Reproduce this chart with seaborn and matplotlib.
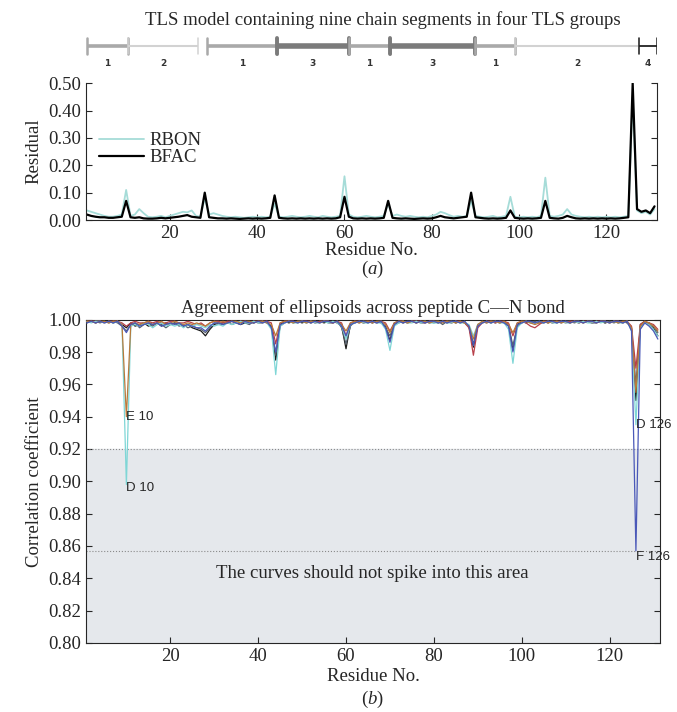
import numpy as np
import pandas as pd
import seaborn as sns
import matplotlib
matplotlib.use("Agg")
import matplotlib.pyplot as plt

# ---- data ----
residues = list(range(1, 132))

bfac = [0.020, 0.015, 0.012, 0.010, 0.010, 0.008, 0.008, 0.010, 0.012, 0.070,
        0.010, 0.008, 0.010, 0.006, 0.005, 0.005, 0.006, 0.008, 0.006, 0.008,
        0.010, 0.012, 0.015, 0.018, 0.012, 0.010, 0.008, 0.100, 0.010, 0.008,
        0.006, 0.006, 0.005, 0.006, 0.005, 0.004, 0.005, 0.006, 0.005, 0.006,
        0.005, 0.006, 0.008, 0.090, 0.008, 0.006, 0.005, 0.006, 0.005, 0.006,
        0.005, 0.006, 0.005, 0.006, 0.005, 0.006, 0.005, 0.006, 0.010, 0.085,
        0.012, 0.006, 0.005, 0.006, 0.005, 0.006, 0.005, 0.006, 0.008, 0.070,
        0.008, 0.006, 0.005, 0.006, 0.005, 0.004, 0.005, 0.006, 0.005, 0.006,
        0.010, 0.015, 0.010, 0.008, 0.006, 0.008, 0.010, 0.012, 0.100, 0.010,
        0.008, 0.006, 0.005, 0.006, 0.005, 0.006, 0.008, 0.035, 0.008, 0.006,
        0.005, 0.006, 0.005, 0.006, 0.008, 0.070, 0.008, 0.006, 0.005, 0.008,
        0.015, 0.010, 0.006, 0.005, 0.006, 0.005, 0.006, 0.005, 0.006, 0.005,
        0.006, 0.005, 0.006, 0.008, 0.010, 0.500, 0.040, 0.030, 0.035, 0.025, 0.050]

rbon = [0.035, 0.030, 0.025, 0.020, 0.015, 0.012, 0.012, 0.015, 0.020, 0.110,
        0.015, 0.020, 0.040, 0.025, 0.012, 0.010, 0.012, 0.015, 0.010, 0.015,
        0.020, 0.025, 0.030, 0.028, 0.035, 0.015, 0.012, 0.080, 0.020, 0.025,
        0.020, 0.015, 0.012, 0.010, 0.012, 0.010, 0.008, 0.010, 0.012, 0.010,
        0.012, 0.010, 0.012, 0.060, 0.012, 0.010, 0.012, 0.015, 0.012, 0.010,
        0.012, 0.015, 0.012, 0.010, 0.015, 0.012, 0.010, 0.012, 0.015, 0.160,
        0.020, 0.012, 0.010, 0.012, 0.015, 0.012, 0.010, 0.012, 0.015, 0.060,
        0.015, 0.020, 0.015, 0.012, 0.015, 0.012, 0.010, 0.012, 0.010, 0.015,
        0.020, 0.030, 0.025, 0.018, 0.012, 0.015, 0.012, 0.015, 0.070, 0.015,
        0.012, 0.010, 0.012, 0.015, 0.010, 0.012, 0.015, 0.085, 0.012, 0.010,
        0.012, 0.010, 0.012, 0.010, 0.015, 0.155, 0.015, 0.012, 0.015, 0.020,
        0.040, 0.020, 0.015, 0.012, 0.010, 0.012, 0.010, 0.012, 0.010, 0.012,
        0.010, 0.012, 0.010, 0.012, 0.015, 0.450, 0.035, 0.025, 0.030, 0.020, 0.040]

# correlation coefficients per atom label
corr_a = [0.999, 0.999, 0.998, 0.999, 0.999, 0.999, 0.998, 0.999, 0.997, 0.995,
          0.998, 0.996, 0.997, 0.998, 0.996, 0.997, 0.998, 0.996, 0.998, 0.997,
          0.998, 0.997, 0.996, 0.997, 0.995, 0.994, 0.993, 0.990, 0.994, 0.997,
          0.998, 0.997, 0.998, 0.999, 0.998, 0.997, 0.998, 0.999, 0.998, 0.999,
          0.999, 0.998, 0.996, 0.975, 0.997, 0.999, 0.998, 0.999, 0.999, 0.998,
          0.999, 0.998, 0.999, 0.999, 0.998, 0.999, 0.999, 0.998, 0.996, 0.982,
          0.997, 0.998, 0.999, 0.998, 0.999, 0.998, 0.999, 0.998, 0.996, 0.987,
          0.998, 0.999, 0.998, 0.999, 0.999, 0.998, 0.999, 0.999, 0.998, 0.999,
          0.998, 0.999, 0.998, 0.999, 0.998, 0.999, 0.998, 0.996, 0.983, 0.997,
          0.998, 0.999, 0.998, 0.999, 0.998, 0.999, 0.997, 0.981, 0.997, 0.999,
          0.998, 0.999, 0.998, 0.999, 0.999, 0.998, 0.999, 0.998, 0.999, 0.999,
          0.998, 0.999, 0.998, 0.999, 0.999, 0.998, 0.999, 0.999, 0.998, 0.999,
          0.999, 0.998, 0.999, 0.998, 0.995, 0.950, 0.997, 0.999, 0.997, 0.995, 0.990]

corr_b = [0.998, 0.999, 0.999, 0.998, 0.999, 0.998, 0.999, 0.998, 0.996, 0.993,
          0.997, 0.998, 0.995, 0.997, 0.998, 0.996, 0.998, 0.997, 0.995, 0.997,
          0.998, 0.996, 0.997, 0.995, 0.996, 0.995, 0.994, 0.992, 0.995, 0.998,
          0.997, 0.998, 0.999, 0.997, 0.998, 0.999, 0.998, 0.997, 0.999, 0.998,
          0.998, 0.999, 0.995, 0.978, 0.996, 0.998, 0.999, 0.998, 0.999, 0.999,
          0.998, 0.999, 0.998, 0.999, 0.999, 0.998, 0.998, 0.999, 0.995, 0.985,
          0.996, 0.999, 0.998, 0.999, 0.998, 0.999, 0.998, 0.999, 0.995, 0.990,
          0.997, 0.998, 0.999, 0.998, 0.999, 0.999, 0.998, 0.998, 0.999, 0.998,
          0.999, 0.997, 0.999, 0.998, 0.999, 0.998, 0.999, 0.995, 0.985, 0.996,
          0.999, 0.998, 0.999, 0.998, 0.999, 0.998, 0.996, 0.984, 0.996, 0.998,
          0.999, 0.998, 0.999, 0.998, 0.998, 0.999, 0.998, 0.999, 0.998, 0.999,
          0.999, 0.998, 0.999, 0.998, 0.999, 0.998, 0.998, 0.999, 0.998, 0.999,
          0.998, 0.999, 0.998, 0.999, 0.994, 0.960, 0.996, 0.998, 0.998, 0.996, 0.992]

corr_c = [0.999, 0.999, 0.999, 0.999, 0.998, 0.999, 0.999, 0.999, 0.998, 0.996,
          0.998, 0.999, 0.998, 0.998, 0.999, 0.998, 0.999, 0.998, 0.998, 0.999,
          0.999, 0.998, 0.998, 0.999, 0.998, 0.997, 0.998, 0.996, 0.998, 0.999,
          0.999, 0.998, 0.999, 0.999, 0.998, 0.999, 0.999, 0.998, 0.999, 0.999,
          0.999, 0.999, 0.998, 0.985, 0.998, 0.999, 0.999, 0.999, 0.998, 0.999,
          0.999, 0.999, 0.998, 0.999, 0.999, 0.999, 0.998, 0.999, 0.998, 0.990,
          0.998, 0.999, 0.999, 0.998, 0.999, 0.999, 0.998, 0.999, 0.998, 0.993,
          0.998, 0.999, 0.999, 0.998, 0.999, 0.999, 0.999, 0.998, 0.999, 0.999,
          0.998, 0.999, 0.999, 0.998, 0.999, 0.999, 0.998, 0.995, 0.978, 0.995,
          0.998, 0.999, 0.999, 0.998, 0.999, 0.999, 0.998, 0.990, 0.998, 0.999,
          0.998, 0.996, 0.995, 0.997, 0.999, 0.999, 0.998, 0.999, 0.999, 0.998,
          0.999, 0.999, 0.998, 0.999, 0.999, 0.998, 0.999, 0.999, 0.999, 0.998,
          0.999, 0.999, 0.998, 0.999, 0.996, 0.970, 0.997, 0.999, 0.998, 0.997, 0.994]

corr_d = [0.999, 0.998, 0.999, 0.999, 0.998, 0.999, 0.998, 0.999, 0.997, 0.898,
          0.996, 0.997, 0.996, 0.998, 0.997, 0.995, 0.997, 0.998, 0.996, 0.997,
          0.996, 0.997, 0.995, 0.997, 0.996, 0.997, 0.996, 0.995, 0.997, 0.996,
          0.997, 0.996, 0.998, 0.997, 0.998, 0.999, 0.998, 0.998, 0.999, 0.998,
          0.999, 0.998, 0.994, 0.966, 0.996, 0.998, 0.999, 0.998, 0.998, 0.999,
          0.998, 0.999, 0.998, 0.998, 0.999, 0.998, 0.999, 0.998, 0.996, 0.988,
          0.997, 0.998, 0.999, 0.998, 0.998, 0.999, 0.998, 0.998, 0.994, 0.981,
          0.996, 0.998, 0.999, 0.998, 0.998, 0.999, 0.998, 0.999, 0.998, 0.998,
          0.998, 0.999, 0.998, 0.998, 0.999, 0.998, 0.998, 0.997, 0.990, 0.997,
          0.998, 0.999, 0.998, 0.999, 0.998, 0.998, 0.994, 0.973, 0.995, 0.998,
          0.999, 0.998, 0.998, 0.999, 0.998, 0.999, 0.998, 0.998, 0.999, 0.998,
          0.998, 0.999, 0.998, 0.999, 0.998, 0.998, 0.999, 0.998, 0.999, 0.998,
          0.999, 0.998, 0.998, 0.999, 0.993, 0.935, 0.995, 0.998, 0.997, 0.994, 0.990]

corr_e = [0.999, 0.999, 0.998, 0.999, 0.999, 0.998, 0.999, 0.999, 0.997, 0.940,
          0.997, 0.998, 0.997, 0.998, 0.999, 0.997, 0.998, 0.999, 0.997, 0.998,
          0.999, 0.998, 0.997, 0.998, 0.997, 0.998, 0.997, 0.996, 0.998, 0.999,
          0.998, 0.999, 0.998, 0.999, 0.999, 0.998, 0.999, 0.999, 0.998, 0.999,
          0.999, 0.998, 0.997, 0.990, 0.998, 0.999, 0.999, 0.998, 0.999, 0.999,
          0.998, 0.999, 0.999, 0.998, 0.999, 0.999, 0.998, 0.999, 0.997, 0.993,
          0.998, 0.999, 0.998, 0.999, 0.999, 0.998, 0.999, 0.999, 0.997, 0.992,
          0.998, 0.999, 0.999, 0.998, 0.999, 0.998, 0.999, 0.999, 0.998, 0.999,
          0.999, 0.998, 0.999, 0.999, 0.998, 0.999, 0.998, 0.996, 0.988, 0.997,
          0.999, 0.998, 0.999, 0.999, 0.998, 0.999, 0.997, 0.992, 0.998, 0.999,
          0.999, 0.998, 0.997, 0.998, 0.999, 0.998, 0.999, 0.999, 0.998, 0.999,
          0.998, 0.999, 0.999, 0.998, 0.999, 0.999, 0.998, 0.999, 0.999, 0.998,
          0.999, 0.998, 0.999, 0.999, 0.995, 0.955, 0.996, 0.999, 0.998, 0.996, 0.993]

corr_f = [0.998, 0.999, 0.998, 0.999, 0.998, 0.999, 0.998, 0.999, 0.996, 0.992,
          0.997, 0.998, 0.996, 0.997, 0.998, 0.997, 0.998, 0.996, 0.997, 0.998,
          0.997, 0.998, 0.996, 0.997, 0.996, 0.995, 0.995, 0.993, 0.996, 0.998,
          0.998, 0.997, 0.998, 0.999, 0.998, 0.997, 0.999, 0.998, 0.998, 0.999,
          0.998, 0.999, 0.995, 0.980, 0.997, 0.998, 0.999, 0.999, 0.998, 0.999,
          0.999, 0.998, 0.999, 0.998, 0.999, 0.999, 0.998, 0.999, 0.996, 0.990,
          0.997, 0.998, 0.999, 0.999, 0.998, 0.999, 0.998, 0.999, 0.995, 0.986,
          0.997, 0.999, 0.998, 0.999, 0.999, 0.998, 0.999, 0.998, 0.999, 0.999,
          0.998, 0.999, 0.998, 0.999, 0.999, 0.998, 0.999, 0.996, 0.984, 0.996,
          0.998, 0.999, 0.998, 0.999, 0.999, 0.998, 0.996, 0.980, 0.997, 0.998,
          0.999, 0.999, 0.998, 0.999, 0.998, 0.999, 0.999, 0.998, 0.999, 0.999,
          0.998, 0.999, 0.999, 0.998, 0.999, 0.999, 0.998, 0.999, 0.999, 0.998,
          0.999, 0.999, 0.998, 0.999, 0.993, 0.857, 0.994, 0.998, 0.996, 0.993, 0.988]

# TLS chain segments (start, end residue, group)
seg_start = [1, 10.5, 28.5, 44.5, 61, 70.5, 90, 99, 127.5]
seg_end   = [10.5, 26.5, 44.5, 61, 70.5, 90, 99, 127.5, 131.5]
seg_group = [1, 2, 1, 3, 1, 3, 1, 2, 4]

# annotated minima: (label, residue, value)
notes = [("E 10", 10, 0.940), ("D 10", 10, 0.896), ("D 126", 126, 0.935), ("F 126", 126, 0.853)]

sns.set_style("ticks")
plt.rcParams['font.family'] = ['Liberation Serif', 'DejaVu Serif']
plt.rcParams['mathtext.fontset'] = 'custom'
plt.rcParams['mathtext.it'] = 'Liberation Serif:italic'
plt.rcParams['mathtext.rm'] = 'Liberation Serif'

fs = 13.5
fig = plt.figure(figsize=(6.77, 7.12), dpi=100)

# ---- (a) residuals ----
ax1 = fig.add_axes([0.127, 0.691, 0.843, 0.192])
res_df = pd.DataFrame({"Residue": residues * 2,
                       "Residual": rbon + bfac,
                       "Type": ["RBON"] * len(rbon) + ["BFAC"] * len(bfac)})
sns.lineplot(data=res_df, x="Residue", y="Residual", hue="Type",
             palette={"RBON": "#a6dcd8", "BFAC": "black"},
             estimator=None, sort=False, ax=ax1, legend=False)
ax1.lines[0].set_linewidth(1.3)
ax1.lines[1].set_linewidth(1.6)
ax1.set_xlim(0.8, 131.5)
ax1.set_ylim(0, 0.5)
ax1.set_yticks(np.arange(0, 0.51, 0.1))
ax1.set_yticklabels(["%.2f" % v for v in np.arange(0, 0.51, 0.1)])
ax1.set_xticks([20, 40, 60, 80, 100, 120])
ax1.spines['top'].set_visible(False)
ax1.tick_params(direction='in', labelsize=fs, right=True, length=4)
ax1.set_xlabel("Residue No.", fontsize=fs, labelpad=0)
ax1.set_ylabel("Residual", fontsize=fs, labelpad=4)
ax1.legend(handles=[ax1.lines[0], ax1.lines[1]], labels=["RBON", "BFAC"],
           loc='upper left', bbox_to_anchor=(0.0, 0.74), frameon=False,
           fontsize=fs, handlelength=2.4, labelspacing=0.0, borderpad=0.2,
           handletextpad=0.3)
fig.text(0.55, 0.621, r"($\it{a}$)", ha='center', va='center', fontsize=fs)

# ---- TLS segment bar ----
axb = fig.add_axes([0.127, 0.905, 0.843, 0.05], sharex=ax1)
axb.set_ylim(0, 1)
axb.axis('off')
styles = {1: ('#a9a9a9', 2.6), 2: ('#d2d2d2', 1.5), 3: ('#7b7b7b', 4.0), 4: ('#222222', 1.3)}
for s, e, g in zip(seg_start, seg_end, seg_group):
    col, lw = styles[g]
    axb.plot([s, e], [0.6, 0.6], color=col, lw=lw, solid_capstyle='butt')
    axb.plot([s, s], [0.38, 0.82], color=col, lw=max(lw * 0.7, 1.1))
    axb.plot([e, e], [0.38, 0.82], color=col, lw=max(lw * 0.7, 1.1))
    axb.text((s + e) / 2, 0.12, str(g), ha='center', va='center', fontsize=6.5,
             fontweight='bold', family='DejaVu Sans', color='#333333')
fig.text(0.565, 0.972, "TLS model containing nine chain segments in four TLS groups",
         ha='center', va='center', fontsize=fs)

# ---- (b) correlation coefficients ----
ax2 = fig.add_axes([0.127, 0.097, 0.848, 0.454])
ax2.axhspan(0.80, 0.92, color='#e5e8ec', zorder=0)
ax2.axhline(0.92, ls=':', color='#8a8a8a', lw=0.8, zorder=1)
ax2.axhline(0.857, ls=':', color='#8a8a8a', lw=0.8, zorder=1)

atoms = ["A", "B", "C", "D", "E", "F"]
series = [corr_a, corr_b, corr_c, corr_d, corr_e, corr_f]
corr_df = pd.DataFrame({"Residue": residues * len(atoms),
                        "Corr": sum(series, []),
                        "Atom": sum([[a] * len(residues) for a in atoms], [])})
pal = {"A": "#1a1a1a", "B": "#55606e", "C": "#b8404a", "D": "#7fd6d6",
       "E": "#b87a3c", "F": "#4a58b8"}
sns.lineplot(data=corr_df, x="Residue", y="Corr", hue="Atom", palette=pal,
             estimator=None, sort=False, ax=ax2, legend=False, linewidth=0.9, zorder=3)
ax2.set_xlim(0.8, 131.5)
ax2.set_ylim(0.80, 1.00)
yt = np.arange(0.80, 1.001, 0.02)
ax2.set_yticks(yt)
ax2.set_yticklabels(["%.2f" % v for v in yt])
ax2.set_xticks([20, 40, 60, 80, 100, 120])
ax2.tick_params(direction='in', labelsize=fs, right=True, length=4)
ax2.set_xlabel("Residue No.", fontsize=fs, labelpad=2)
ax2.set_ylabel("Correlation coefficient", fontsize=fs, labelpad=4)
ax2.set_title("Agreement of ellipsoids across peptide C\u2014N bond", fontsize=fs, pad=5)
for lab, r, v in notes:
    ax2.text(r, v, lab, ha='left', va='center', fontsize=9.5,
             family=['Liberation Sans', 'DejaVu Sans'], zorder=5)
ax2.text(66, 0.843, "The curves should not spike into this area", ha='center',
         va='center', fontsize=fs)
fig.text(0.55, 0.017, r"($\it{b}$)", ha='center', va='center', fontsize=fs)

fig.savefig("out.png", dpi=100)
